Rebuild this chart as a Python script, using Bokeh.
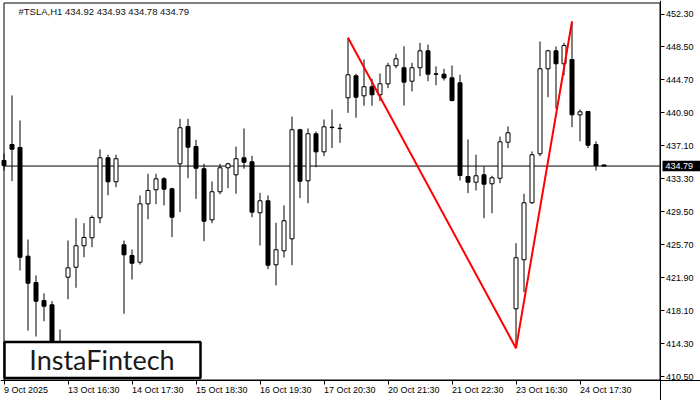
from bokeh.plotting import figure
from bokeh.models import (Range1d, FixedTicker, Label, BoxAnnotation, LinearAxis,
                          ColumnDataSource, PrintfTickFormatter)
from bokeh.embed import file_html
from bokeh.resources import INLINE

symbol = "#TSLA,H1"
brand = "InstaFintech"

opens = [435.43, 437.27, 436.93, 424.41, 421.38, 419.31, 418.81, 412.40, 421.99, 423.14,
         425.61, 426.53, 428.83, 435.74, 432.98, 425.72, 424.49, 423.72, 430.44, 432.06,
         433.32, 432.17, 435.05, 439.35, 437.04, 434.48, 428.60, 431.83, 434.59, 433.78,
         435.74, 435.28, 429.41, 430.79, 423.42, 425.03, 426.41, 438.97, 433.09, 438.51,
         436.43, 439.27, 439.15, 442.65, 445.18, 442.88, 443.92, 443.00, 444.26, 446.34,
         446.11, 444.56, 446.11, 448.06, 445.41, 445.37, 444.95, 444.38, 433.59, 432.93,
         433.78, 432.75, 433.39, 437.54, 418.35, 424.00, 430.56, 436.20, 445.99, 448.06,
         446.57, 447.06, 440.69, 441.07, 437.27, 434.92]
highs = [436.24, 442.92, 440.04, 426.33, 422.19, 420.12, 419.23, 415.97, 426.22, 428.79,
         428.21, 429.10, 436.70, 436.09, 436.09, 426.22, 425.18, 431.40, 433.90, 433.90,
         433.51, 432.29, 440.23, 440.23, 437.81, 435.05, 433.01, 435.05, 435.17, 437.04,
         439.12, 435.97, 431.71, 431.40, 428.26, 430.25, 440.50, 439.08, 439.12, 438.77,
         440.15, 441.30, 439.66, 449.56, 445.41, 447.06, 444.84, 445.45, 446.68, 447.72,
         448.59, 446.68, 448.98, 448.79, 446.26, 445.99, 446.37, 445.30, 437.85, 436.09,
         434.74, 433.67, 438.19, 439.35, 425.91, 431.60, 436.47, 449.13, 448.18, 448.56,
         448.98, 451.44, 441.30, 441.07, 437.62, 434.93]
lows = [434.27, 433.05, 422.76, 415.85, 415.16, 416.92, 411.50, 411.00, 419.46, 420.77,
        424.29, 425.45, 428.21, 431.43, 432.36, 417.78, 421.73, 423.45, 428.67, 430.40,
        430.25, 426.60, 429.48, 433.39, 431.02, 426.14, 428.21, 431.55, 432.24, 431.60,
        434.48, 428.90, 425.64, 422.91, 421.04, 424.26, 423.37, 431.09, 430.51, 434.66,
        435.93, 436.87, 437.47, 440.92, 440.35, 441.73, 441.73, 442.26, 443.76, 446.06,
        441.76, 443.38, 445.14, 444.56, 444.10, 444.64, 442.22, 433.13, 431.67, 431.98,
        428.79, 429.36, 432.82, 436.85, 413.82, 420.27, 430.44, 435.93, 442.72, 441.38,
        445.22, 439.27, 437.65, 436.85, 434.28, 434.78]
closes = [434.85, 436.73, 424.29, 421.30, 419.23, 418.65, 413.32, 413.78, 423.07, 425.61,
          426.56, 428.87, 435.74, 432.98, 435.63, 424.57, 423.60, 430.44, 431.98, 433.32,
          432.13, 428.90, 439.20, 436.96, 434.54, 428.44, 431.83, 434.59, 435.05, 435.63,
          435.23, 429.48, 430.79, 423.37, 425.15, 428.49, 438.97, 433.05, 438.51, 436.43,
          439.31, 439.22, 439.10, 445.30, 442.72, 443.92, 443.00, 444.26, 446.34, 447.14,
          444.45, 446.11, 448.06, 445.37, 445.36, 444.93, 442.34, 433.70, 432.93, 433.67,
          432.70, 433.44, 437.58, 438.62, 424.23, 430.56, 436.09, 445.99, 448.06, 446.57,
          448.67, 440.69, 441.04, 437.19, 434.85, 434.79]

x_tick_idx = [0, 8, 16, 24, 32, 40, 48, 56, 64, 72]
x_tick_labels = ["9 Oct 2025", "13 Oct 16:30", "14 Oct 17:30", "15 Oct 18:30",
                 "16 Oct 19:30", "17 Oct 20:30", "20 Oct 21:30", "21 Oct 22:30",
                 "23 Oct 16:30", "24 Oct 17:30"]
y_ticks = [410.50, 414.30, 418.10, 421.90, 425.70, 429.50, 433.30, 437.10,
           440.90, 444.70, 448.50, 452.30]

# pattern points: top, bottom, top (bar indices)
pattern_idx = [43, 64, 71]

# ---------------- layout helpers (pixel geometry of the MT4-style window) ----------
W, H = 700, 400
BAR_PX = 8.0          # horizontal distance between bars
PX_PER_UNIT = 8.684   # vertical pixels per price unit
X0_PX = 3.5           # pixel centre of bar 0
TICK_REF_PRICE, TICK_REF_PY = 452.30, 13.5


def px2x(px):
    return (px - X0_PX) / BAR_PX


def py2y(py):
    return TICK_REF_PRICE - (py - TICK_REF_PY) / PX_PER_UNIT


CH_RIGHT = 82                 # right edge of chart area, in bars
CH_TOP = py2y(2.5)
CH_BOTTOM = py2y(379.5)

FONT = "Liberation Sans"
FSIZE = 9
CW = {"O": 0.778, "c": 0.5, "t": 0.278, " ": 0.278, ":": 0.278}


def text_w(s):
    return sum(CW.get(ch, 0.556) for ch in s) * FSIZE


idx = list(range(len(opens)))
src = ColumnDataSource(dict(
    x=idx, h=highs, l=lows,
    top=[max(o, c) for o, c in zip(opens, closes)],
    bottom=[min(o, c) for o, c in zip(opens, closes)],
    fill=["white" if c >= o else "black" for o, c in zip(opens, closes)],
))

p = figure(width=W, height=H, output_backend="svg", toolbar_location=None,
           x_range=Range1d(px2x(0), px2x(W)), y_range=Range1d(py2y(H), py2y(0)),
           y_axis_location="right",
           min_border_left=0, min_border_top=0, min_border_right=0, min_border_bottom=0)
p.background_fill_color = "white"
p.border_fill_color = "white"
p.outline_line_color = None
p.xgrid.visible = False
p.ygrid.visible = False

# chart border
p.quad(left=0, right=CH_RIGHT, top=CH_TOP, bottom=CH_BOTTOM,
       fill_color=None, line_color="black", line_width=1)

# bid line
p.segment(x0=0, y0=closes[-1], x1=CH_RIGHT, y1=closes[-1], line_color="black", line_width=1)

# candles
p.segment(x0="x", y0="l", x1="x", y1="h", source=src, line_color="black", line_width=1)
p.vbar(x="x", width=0.5, top="top", bottom="bottom", source=src,
       fill_color="fill", line_color="black", line_width=1)

# pattern
pat_y = [highs[pattern_idx[0]], lows[pattern_idx[1]], highs[pattern_idx[2]]]
p.line(pattern_idx, pat_y, line_color="red", line_width=2)

# price axis (right)
yax = p.yaxis[0]
yax.fixed_location = CH_RIGHT
yax.ticker = FixedTicker(ticks=y_ticks)
yax.formatter = PrintfTickFormatter(format="%.2f")
yax.major_tick_out = 4
yax.major_tick_in = 0
yax.minor_tick_out = 0
yax.minor_tick_in = 0
yax.major_label_standoff = 2
yax.major_label_text_font = FONT
yax.major_label_text_font_size = f"{FSIZE}px"
yax.major_label_text_color = "black"
yax.axis_line_color = "black"

# time axis: tick marks
xax = p.xaxis[0]
xax.fixed_location = CH_BOTTOM
xax.ticker = FixedTicker(ticks=x_tick_idx)
xax.major_label_overrides = {i: "" for i in x_tick_idx}
xax.major_label_text_font_size = "0px"
xax.major_tick_out = 4
xax.major_tick_in = 0
xax.minor_tick_out = 0
xax.minor_tick_in = 0
xax.axis_line_color = "black"

# time axis: labels, left-aligned at their tick
lab_pos = [i + text_w(s) / 2 / BAR_PX for i, s in zip(x_tick_idx, x_tick_labels)]
xlab = LinearAxis(fixed_location=CH_BOTTOM, ticker=FixedTicker(ticks=lab_pos),
                  major_label_overrides={v: s for v, s in zip(lab_pos, x_tick_labels)},
                  major_tick_out=0, major_tick_in=0, minor_tick_out=0, minor_tick_in=0,
                  axis_line_color=None, major_label_standoff=5,
                  major_label_text_font=FONT, major_label_text_font_size=f"{FSIZE}px",
                  major_label_text_color="black")
p.add_layout(xlab, "below")

# header text
header = f"{symbol}  {opens[-1]:.2f} {highs[-1]:.2f} {lows[-1]:.2f} {closes[-1]:.2f}"
p.add_layout(Label(x=px2x(18), y=py2y(10.7), text=header, text_font=FONT,
                   text_font_size="9.5px", text_baseline="middle", text_color="#111111"))

# current price tag
p.quad(left=px2x(662), right=px2x(W), top=py2y(160.3), bottom=py2y(170.8),
       fill_color="black", line_color=None)
p.add_layout(Label(x=px2x(665), y=closes[-1], text=f"{closes[-1]:.2f}", text_font=FONT,
                   text_font_size=f"{FSIZE}px", text_baseline="middle", text_align="left",
                   text_color="white"))

# logo
p.add_layout(BoxAnnotation(left=px2x(4), right=px2x(200), top=py2y(341.5), bottom=py2y(377.5),
                           fill_color="white", fill_alpha=1.0,
                           line_color="black", line_alpha=1.0, line_width=2.5))
p.add_layout(Label(x=px2x(101.5), y=py2y(358.5), text=brand, text_font="Lato",
                   text_font_size="27px", text_align="center", text_baseline="middle",
                   text_color="#1a1a1a"))

open("out.html", "w").write(file_html(p, INLINE))
